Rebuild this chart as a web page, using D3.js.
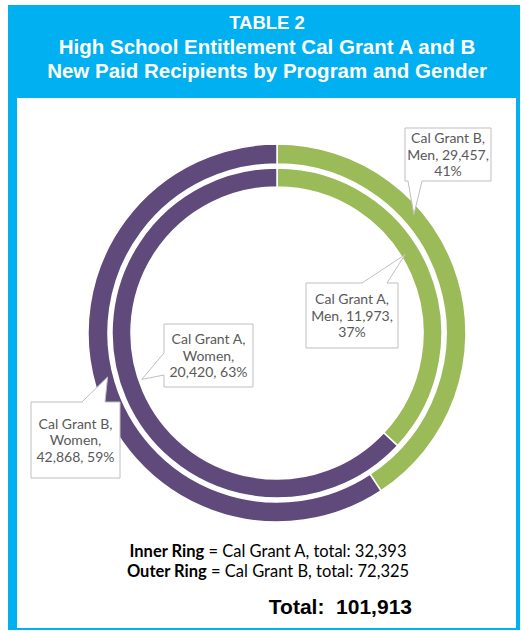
<!DOCTYPE html>
<html>
<head>
<meta charset="utf-8">
<script src="https://cdn.jsdelivr.net/npm/d3@7"></script>
<style>
  body { margin: 0; background: #fff; }
  svg { display: block; }
</style>
</head>
<body>
<svg width="524" height="631"></svg>
<script>
// data
var titleLines = ["TABLE 2", "High School Entitlement Cal Grant A and B", "New Paid Recipients by Program and Gender"];
var programs = ["Cal Grant A", "Cal Grant B"];
var genders = ["Men", "Women"];
var grantA = [11973, 20420];
var grantB = [29457, 42868];
var ringTotals = [32393, 72325];
var grandTotal = 101913;

var svg = d3.select("svg"),
  width = +svg.attr("width"),
  height = +svg.attr("height");

var blue = "#00b0f0";
var colors = d3.scaleOrdinal().domain(genders).range(["#9bbb59", "#604a7b"]);
var fmt = d3.format(",");

// frame: blue header and border
svg.append("rect").attr("x", 8).attr("y", 5).attr("width", 512).attr("height", 625).attr("fill", blue);
svg.append("rect").attr("x", 17).attr("y", 98).attr("width", 499).attr("height", 530).attr("fill", "#fff");

// title
svg.append("g").selectAll("text")
  .data(titleLines)
  .enter().append("text")
  .attr("x", 267)
  .attr("y", function(d, i) { return 29 + i * 24.5; })
  .attr("text-anchor", "middle")
  .attr("fill", "#fff")
  .attr("font-family", "Liberation Sans, Arial, sans-serif")
  .attr("font-weight", "bold")
  .attr("font-size", function(d, i) { return i === 0 ? "18.5px" : "20.5px"; })
  .text(function(d) { return d; });

// donut
var cx = 277, cy = 333;
var rings = [
  { program: programs[0], values: grantA, inner: 146, outer: 165 },
  { program: programs[1], values: grantB, inner: 169, outer: 189 }
];

var pie = d3.pie().sort(null).value(function(d) { return d; });

var g = svg.append("g").attr("transform", "translate(" + cx + "," + cy + ")");

rings.forEach(function(ring) {
  ring.slices = pie(ring.values);
  var arc = d3.arc().innerRadius(ring.inner).outerRadius(ring.outer);
  g.selectAll(null)
    .data(ring.slices)
    .enter().append("path")
    .attr("d", arc)
    .attr("fill", function(d, i) { return colors(genders[i]); })
    .attr("stroke", "#fff")
    .attr("stroke-width", 1.5);
});

// callouts: which ring/slice, where along the slice the pointer lands, and the box
var callouts = [
  { ring: 1, slice: 0, f: 0.335, r: 181, box: [405, 128, 86, 53], side: "bottom", wedge: [408, 422] },
  { ring: 0, slice: 0, f: 0.44, r: 150, box: [306, 283, 92, 65], side: "top", wedge: [362, 387] },
  { ring: 0, slice: 1, f: 0.52, r: 143, box: [164, 324, 89, 63], side: "left", wedge: [353, 375] },
  { ring: 1, slice: 1, f: 0.51, r: 175, box: [31, 402, 89, 76], side: "top", wedge: [82, 105] }
];

function calloutPath(c, tip) {
  var x0 = c.box[0], y0 = c.box[1], x1 = x0 + c.box[2], y1 = y0 + c.box[3];
  var w = c.wedge;
  if (c.side === "bottom")
    return "M" + x0 + "," + y0 + "H" + x1 + "V" + y1 + "H" + w[1] + "L" + tip[0] + "," + tip[1] + "L" + w[0] + "," + y1 + "H" + x0 + "Z";
  if (c.side === "top")
    return "M" + x0 + "," + y0 + "H" + w[0] + "L" + tip[0] + "," + tip[1] + "L" + w[1] + "," + y0 + "H" + x1 + "V" + y1 + "H" + x0 + "Z";
  // left
  return "M" + x0 + "," + y0 + "H" + x1 + "V" + y1 + "H" + x0 + "V" + w[1] + "L" + tip[0] + "," + tip[1] + "L" + x0 + "," + w[0] + "Z";
}

var labels = svg.append("g");
callouts.forEach(function(c) {
  var ring = rings[c.ring];
  var s = ring.slices[c.slice];
  var total = d3.sum(ring.values);
  var a = s.startAngle + c.f * (s.endAngle - s.startAngle);
  var tip = [cx + c.r * Math.sin(a), cy - c.r * Math.cos(a)];

  labels.append("path")
    .attr("d", calloutPath(c, tip))
    .attr("fill", "#fff")
    .attr("stroke", "#bfbfbf")
    .attr("stroke-width", 1);

  var value = ring.values[c.slice];
  var pct = Math.round(value / total * 100) + "%";
  var lines;
  if (c.slice === 0) lines = [ring.program + ",", genders[c.slice] + ", " + fmt(value) + ",", pct];
  else lines = [ring.program + ",", genders[c.slice] + ",", fmt(value) + ", " + pct];

  var lh = 16.5;
  var midY = c.box[1] + c.box[3] / 2;
  labels.append("g").selectAll("text")
    .data(lines)
    .enter().append("text")
    .attr("x", c.box[0] + c.box[2] / 2)
    .attr("y", function(d, i) { return midY + (i - 1) * lh + 5; })
    .attr("text-anchor", "middle")
    .attr("fill", "#595959")
    .attr("font-family", "Lato, sans-serif")
    .attr("font-size", "14px")
    .text(function(d) { return d; });
});

// ring legend and total
var legend = svg.append("g")
  .attr("font-family", "Lato, sans-serif")
  .attr("font-size", "16.5px")
  .attr("fill", "#000");

["Inner Ring", "Outer Ring"].forEach(function(name, i) {
  var t = legend.append("text")
    .attr("x", 268)
    .attr("y", 557 + i * 20)
    .attr("text-anchor", "middle");
  t.append("tspan").attr("font-weight", "bold").text(name);
  t.append("tspan").text(" = " + programs[i] + ", total: " + fmt(ringTotals[i]));
});

svg.append("text")
  .attr("x", 412)
  .attr("y", 614)
  .attr("text-anchor", "end")
  .attr("font-family", "Liberation Sans, Arial, sans-serif")
  .attr("font-weight", "bold")
  .attr("font-size", "21px")
  .text("Total:  " + fmt(grandTotal))
  .style("white-space", "pre");
</script>
</body>
</html>
